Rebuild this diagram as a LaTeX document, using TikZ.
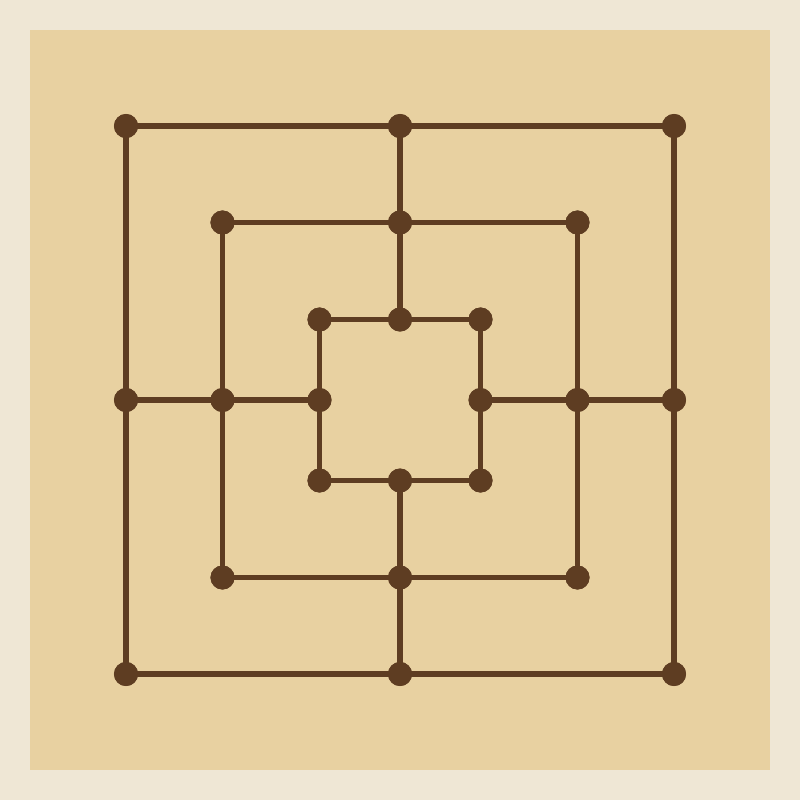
\documentclass[tikz,border=0pt]{standalone}
\definecolor{bgcol}{HTML}{EFE7D5}
\definecolor{boardcol}{HTML}{E8D1A1}
\definecolor{brown}{HTML}{5E3D22}
\begin{document}
\begin{tikzpicture}[x=0.01cm,y=-0.01cm,
  pt/.style={circle,fill=brown,inner sep=0pt,minimum size=0.24cm},
  ln/.style={draw=brown,line width=0.055cm}]
\fill[bgcol] (0,0) rectangle (800,800);
\useasboundingbox (0,0) rectangle (800,800);
\fill[boardcol] (30,30) rectangle (770,770);
% squares: outer (a), middle (b), inner (c)
\foreach \n/\h in {a/274,b/177.5,c/80.5}{
  \node[pt] (\n1) at (400-\h,400-\h) {};
  \node[pt] (\n2) at (400,400-\h) {};
  \node[pt] (\n3) at (400+\h,400-\h) {};
  \node[pt] (\n4) at (400+\h,400) {};
  \node[pt] (\n5) at (400+\h,400+\h) {};
  \node[pt] (\n6) at (400,400+\h) {};
  \node[pt] (\n7) at (400-\h,400+\h) {};
  \node[pt] (\n8) at (400-\h,400) {};
}
\begin{scope}[on background layer/.style={}]
\foreach \n in {a,b,c}{
  \draw[ln] (\n1.center) -- (\n2.center) -- (\n3.center) -- (\n4.center) -- (\n5.center) -- (\n6.center) -- (\n7.center) -- (\n8.center) -- cycle;
}
\draw[ln] (a2.center) -- (b2.center) -- (c2.center);
\draw[ln] (a4.center) -- (b4.center) -- (c4.center);
\draw[ln] (a6.center) -- (b6.center) -- (c6.center);
\draw[ln] (a8.center) -- (b8.center) -- (c8.center);
\end{scope}
% redraw dots on top
\foreach \n in {a,b,c}{
  \foreach \i in {1,...,8}{
    \fill[brown] (\n\i.center) circle (0.12cm);
  }
}
\end{tikzpicture}
\end{document}
